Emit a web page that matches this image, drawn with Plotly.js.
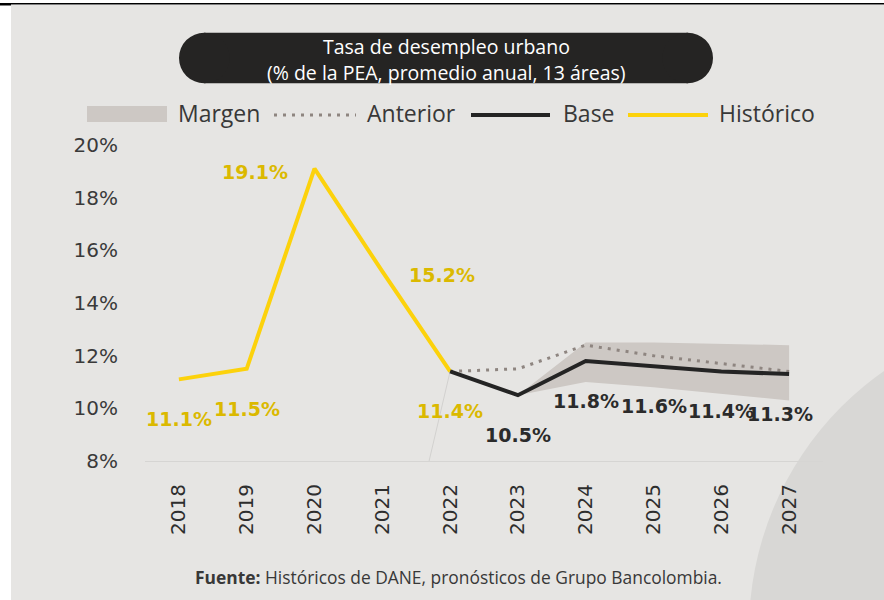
<!DOCTYPE html>
<html>
<head>
<meta charset="utf-8">
<script src="https://cdn.plot.ly/plotly-3.0.1.min.js"></script>
<style>
  html, body { margin: 0; padding: 0; background: #ffffff; }
  #chart { width: 884px; height: 600px; }
</style>
</head>
<body>
<div id="chart"></div>
<script>
// ---------- data ----------
const years = ['2018', '2019', '2020', '2021', '2022', '2023', '2024', '2025', '2026', '2027'];
const histYears = ['2018', '2019', '2020', '2021', '2022'];
const histVals = [11.1, 11.5, 19.1, 15.2, 11.4];
const fcYears = ['2022', '2023', '2024', '2025', '2026', '2027'];
const baseVals = [11.4, 10.5, 11.8, 11.6, 11.4, 11.3];
const anteriorVals = [11.4, 11.5, 12.4, 12.0, 11.7, 11.4];
const bandYears = ['2023', '2024', '2025', '2026', '2027'];
const bandLow = [10.5, 11.0, 10.8, 10.55, 10.3];
const bandHigh = [10.5, 12.5, 12.5, 12.45, 12.4];
const yTicks = [8, 10, 12, 14, 16, 18, 20];
const titleLines = ['Tasa de desempleo urbano', '(% de la PEA, promedio anual, 13 áreas)'];
const legendNames = ['Margen', 'Anterior', 'Base', 'Histórico'];
const sourceText = '<b>Fuente:</b> Históricos de DANE, pronósticos de Grupo Bancolombia.';

// ---------- styles ----------
const W = 884, H = 600;
const M = { l: 145, r: 61, t: 145, b: 139 };
const PW = W - M.l - M.r, PH = H - M.t - M.b;
const px = x => (x - M.l) / PW;
const py = y => (H - M.b - y) / PH;

const YEL = '#fcd20c', YEL_TXT = '#dbb900', DARK = '#242424', DOT = '#8e8580', BAND = '#cdc8c4';
const PANEL = '#e6e5e3', CIRCLE = '#d8d7d5', TXT = '#383838';
const histShift = [[0, -40], [0, -40], [-60, -3], [60, -4], [0, -40]];
const fcShift = [[0, -40], [0, -40], [0, -40], [0, -40], [0, -40], [-9, -40]];

const fmt = v => '<b>' + v.toFixed(1) + '%</b>';
const i2022 = years.indexOf(histYears[histYears.length - 1]);

const traces = [
  { x: bandYears, y: bandLow, mode: 'lines', line: { width: 0, color: BAND }, hoverinfo: 'skip', showlegend: false },
  { x: bandYears, y: bandHigh, mode: 'lines', fill: 'tonexty', fillcolor: BAND, line: { width: 0, color: BAND }, hoverinfo: 'skip', showlegend: false },
  { x: fcYears, y: anteriorVals, mode: 'lines', line: { color: DOT, width: 3, dash: '3px,6px' }, showlegend: false },
  { x: histYears, y: histVals, mode: 'lines', line: { color: YEL, width: 4 }, showlegend: false },
  { x: fcYears, y: baseVals, mode: 'lines', line: { color: DARK, width: 4 }, showlegend: false }
];

const shapes = [
  { type: 'rect', xref: 'paper', yref: 'paper', x0: px(11), x1: px(884), y0: py(5), y1: py(600), fillcolor: PANEL, line: { width: 0 }, layer: 'below' },
  { type: 'circle', xref: 'paper', yref: 'paper', x0: px(1065 - 316), x1: px(1065 + 316), y0: py(630 - 316), y1: py(630 + 316), fillcolor: CIRCLE, line: { width: 0 }, layer: 'below' },
  { type: 'rect', xref: 'paper', yref: 'paper', x0: px(0), x1: px(884), y0: py(3), y1: py(4.5), fillcolor: '#000', line: { width: 0 }, layer: 'below' },
  { type: 'rect', xref: 'paper', yref: 'paper', x0: px(0), x1: px(11), y0: py(3), y1: py(5.5), fillcolor: '#000', line: { width: 0 }, layer: 'below' },
  // faint leader line from the last historical point
  { type: 'line', xref: 'x', yref: 'y', x0: i2022, y0: histVals[histVals.length - 1], x1: i2022 - 0.31, y1: 8, line: { color: '#d2d1cf', width: 1 }, layer: 'below' },
  { type: 'rect', xref: 'paper', yref: 'paper', x0: px(204), x1: px(688), y0: py(32.7), y1: py(83.3), fillcolor: '#252423', line: { width: 0 }, layer: 'above' },
  { type: 'circle', xref: 'paper', yref: 'paper', x0: px(179), x1: px(229.6), y0: py(32.7), y1: py(83.3), fillcolor: '#252423', line: { width: 0 }, layer: 'above' },
  { type: 'circle', xref: 'paper', yref: 'paper', x0: px(662.4), x1: px(713), y0: py(32.7), y1: py(83.3), fillcolor: '#252423', line: { width: 0 }, layer: 'above' },
  { type: 'rect', xref: 'paper', yref: 'paper', x0: px(87), x1: px(167), y0: py(106), y1: py(122), fillcolor: BAND, line: { width: 0 } },
  { type: 'line', xref: 'paper', yref: 'paper', x0: px(274), x1: px(356), y0: py(115), y1: py(115), line: { color: DOT, width: 3, dash: '3px,6px' } },
  { type: 'line', xref: 'paper', yref: 'paper', x0: px(471), x1: px(550), y0: py(115), y1: py(115), line: { color: DARK, width: 4 } },
  { type: 'line', xref: 'paper', yref: 'paper', x0: px(628), x1: px(708), y0: py(115), y1: py(115), line: { color: YEL, width: 4 } }
];

const annotations = [];
annotations.push({ xref: 'paper', yref: 'paper', x: px(446), y: py(46), text: titleLines[0], showarrow: false, xanchor: 'center', yanchor: 'middle', font: { family: 'Open Sans', size: 19.5, color: '#ffffff' } });
annotations.push({ xref: 'paper', yref: 'paper', x: px(446), y: py(72), text: titleLines[1], showarrow: false, xanchor: 'center', yanchor: 'middle', font: { family: 'Open Sans', size: 19.5, color: '#ffffff' } });
const legX = [176, 365, 561, 717];
legendNames.forEach((n, i) => annotations.push({ xref: 'paper', yref: 'paper', x: px(legX[i]), y: py(113), text: n, showarrow: false, xanchor: 'left', yanchor: 'middle', font: { family: 'Open Sans', size: 23, color: TXT } }));
annotations.push({ xref: 'paper', yref: 'paper', x: px(458), y: py(577), text: sourceText, showarrow: false, xanchor: 'center', yanchor: 'middle', font: { family: 'Open Sans', size: 17.4, color: TXT } });
histYears.forEach((yr, i) => annotations.push({ x: years.indexOf(yr), y: histVals[i], xref: 'x', yref: 'y', text: fmt(histVals[i]), showarrow: false, xanchor: 'center', yanchor: 'middle', xshift: histShift[i][0], yshift: histShift[i][1], font: { family: 'DejaVu Sans', size: 19, color: YEL_TXT } }));
fcYears.forEach((yr, i) => { if (i === 0) return; annotations.push({ x: years.indexOf(yr), y: baseVals[i], xref: 'x', yref: 'y', text: fmt(baseVals[i]), showarrow: false, xanchor: 'center', yanchor: 'middle', xshift: fcShift[i][0], yshift: fcShift[i][1], font: { family: 'DejaVu Sans', size: 19, color: '#2b2b2b' } }); });

const layout = {
  width: W, height: H,
  margin: M,
  paper_bgcolor: '#ffffff',
  plot_bgcolor: 'rgba(0,0,0,0)',
  showlegend: false,
  xaxis: {
    type: 'category', categoryorder: 'array', categoryarray: years,
    range: [-0.5, 9.5], tickangle: -90, automargin: false,
    showgrid: false, zeroline: false, showline: true, linecolor: '#d6d5d3', linewidth: 1,
    ticks: 'outside', ticklen: 14, tickcolor: 'rgba(0,0,0,0)',
    tickfont: { family: 'DejaVu Sans', size: 20, color: '#2e2e2e' }
  },
  yaxis: {
    range: [8, 20], tickvals: yTicks, ticktext: yTicks.map(v => v + '%'), automargin: false,
    showgrid: false, zeroline: false, showline: false,
    ticks: 'outside', ticklen: 22, tickcolor: 'rgba(0,0,0,0)',
    tickfont: { family: 'DejaVu Sans', size: 20, color: '#3a3a3a' }
  },
  shapes: shapes,
  annotations: annotations
};

Plotly.newPlot('chart', traces, layout, { displayModeBar: false, staticPlot: true });
</script>
</body>
</html>
